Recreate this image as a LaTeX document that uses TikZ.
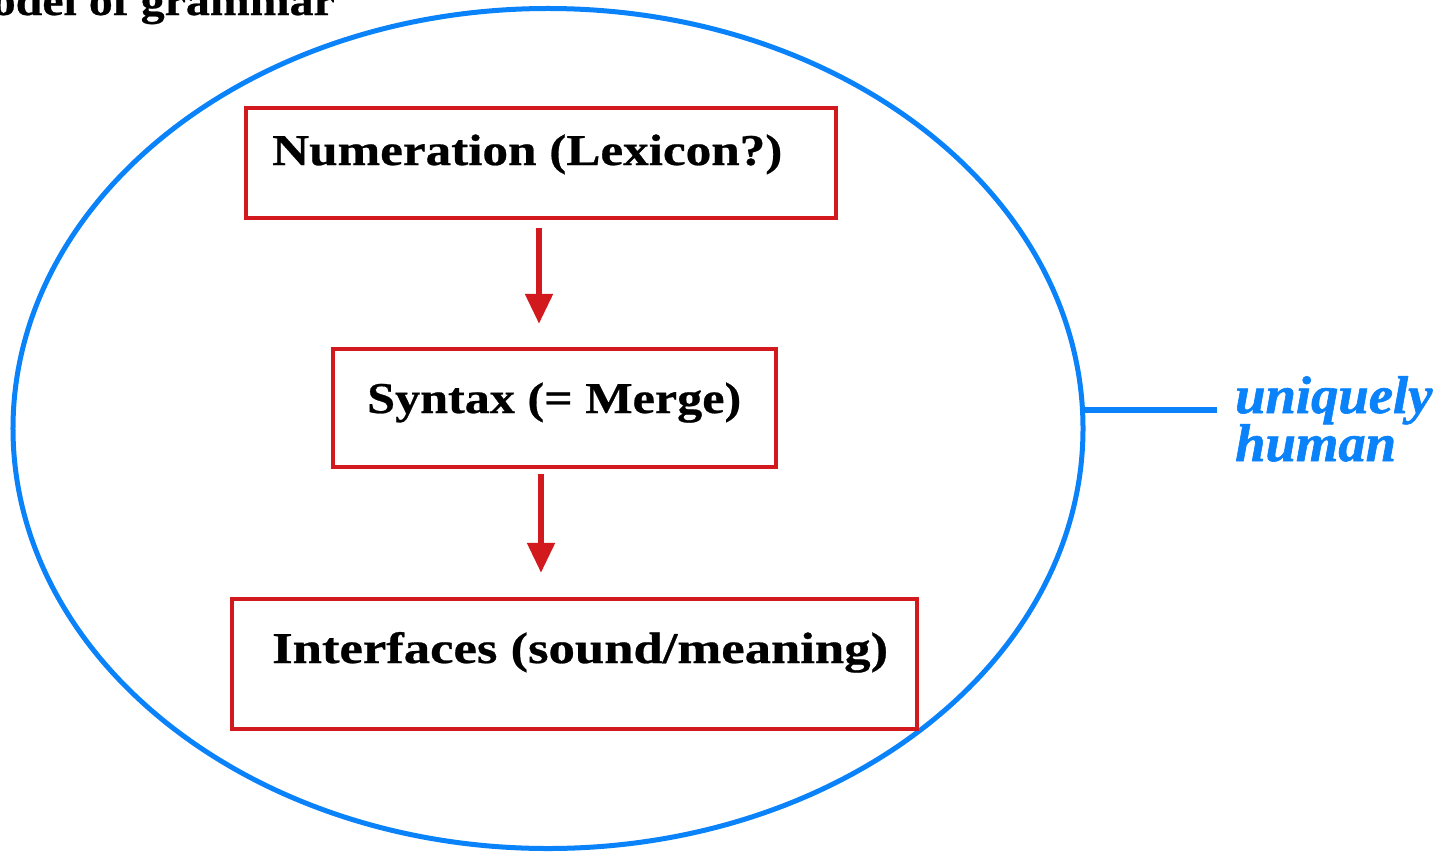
\documentclass[tikz,border=0pt]{standalone}
\usepackage{fontspec}
\usepackage{graphicx}
\setmainfont{Liberation Serif}
\newfontfamily\boxfont[FakeStretch=1.14,FakeBold=0.6]{Liberation Serif}
\newfontfamily\tagfont[FakeStretch=1.03,FakeBold=1.2]{Liberation Serif}
\usetikzlibrary{shapes.geometric,arrows.meta}
\definecolor{boxred}{RGB}{210,26,30}
\definecolor{skyblue}{RGB}{10,130,250}
\tikzset{
  box/.style={draw=boxred, line width=4.5bp, rectangle, inner sep=0pt},
  lbl/.style={font=\boxfont\bfseries\fontsize{44bp}{48bp}\selectfont, inner sep=0pt, anchor=base west, text=black},
  arr/.style={draw=boxred, line width=5.5bp, -{Triangle[width=27bp,length=30bp]}},
  tag/.style={font=\tagfont\bfseries\itshape\fontsize{53bp}{48bp}\selectfont, text=skyblue, inner sep=0pt, anchor=base west},
}
\begin{document}
\begin{tikzpicture}[x=1bp,y=-1bp]
\useasboundingbox (0,0) rectangle (1445,851);
\clip (0,0) rectangle (1445,851);
\node[font=\boxfont\bfseries\fontsize{42bp}{44bp}\selectfont, inner sep=0pt, anchor=base east] (title) at (335,15) {Model of grammar};
\node[ellipse, draw=skyblue, line width=5bp, minimum width=1070bp, minimum height=840bp, inner sep=0pt] (ell) at (548,428.5) {};
\node[box, minimum width=590bp, minimum height=110bp] (b1) at (541,163) {};
\node[box, minimum width=443bp, minimum height=118bp] (b2) at (554.5,408) {};
\node[box, minimum width=685bp, minimum height=130bp] (b3) at (574.5,664) {};
\node[lbl] (t1) at (272,165) {\scalebox{1.02}[1]{Numeration (Lexicon?)}};
\node[lbl] (t2) at (367,413) {Syntax (= Merge)};
\node[lbl] (t3) at (272,663) {\scalebox{1.05}[1]{Interfaces (sound/meaning)}};
\coordinate (ax1) at (539,0);
\coordinate (ax2) at (541,0);
\draw[arr, shorten <=8bp, shorten >=23bp] (b1.south -| ax1) -- (b2.north -| ax1);
\draw[arr, shorten <=5bp, shorten >=24bp] (b2.south -| ax2) -- (b3.north -| ax2);
\coordinate (lend) at (1217,406);
\draw[skyblue, line width=5.5bp] (ell.2.4) -- (ell.2.4 -| lend);
\node[tag] (u1) at (1235,413) {uniquely};
\node[tag] (u2) at (1235,461) {human};
\end{tikzpicture}
\end{document}
